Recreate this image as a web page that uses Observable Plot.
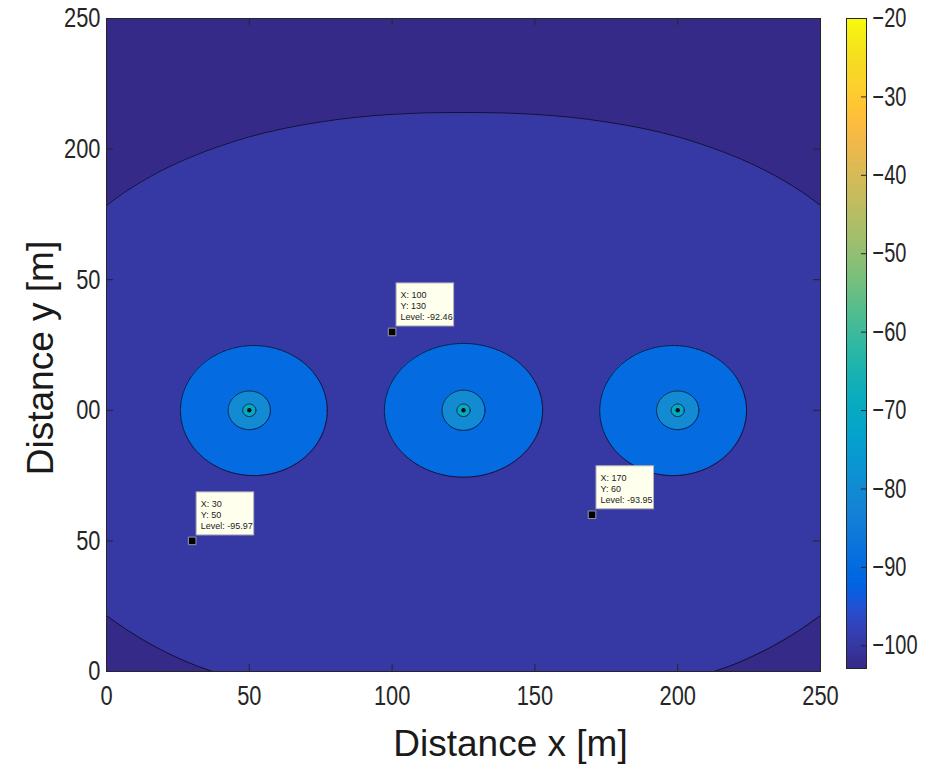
<!DOCTYPE html>
<html>
<head>
<meta charset="utf-8">
<script src="https://cdn.jsdelivr.net/npm/d3@7"></script>
<script src="https://cdn.jsdelivr.net/npm/@observablehq/plot@0.6"></script>
<style>
  html, body { margin: 0; padding: 0; background: #ffffff; }
  #wrap { position: relative; width: 927px; height: 765px; overflow: hidden; background: #ffffff; }
  #wrap svg { position: absolute; top: 0; }
</style>
</head>
<body>
<div id="wrap"></div>
<script>
// ---------------- data ----------------
const xTicks = [0, 50, 100, 150, 200, 250];
const yTicks = [0, 50, 100, 150, 200, 250];
const yTickLabels = ["0", "50", "00", "50", "200", "250"];
const colorbarTicks = [-100, -90, -80, -70, -60, -50, -40, -30, -20];
const colorMin = -102.9;
const colorMax = -20;

// -100 dB contour: upper arc, lower-left arc, lower-right arc
const topArcX = [0, 6.25, 12.5, 18.75, 25, 31.25, 37.5, 50, 62.5, 75, 87.5, 100, 112.5, 125, 137.5, 150, 162.5, 175, 187.5, 200, 212.5, 218.75, 225, 231.25, 237.5, 243.75, 250];
const topArcY = [178.4, 183.4, 187.7, 191.5, 194.8, 197.7, 200.3, 204.7, 208.0, 210.4, 212.2, 213.3, 213.9, 214.0, 213.9, 213.3, 212.2, 210.4, 208.0, 204.7, 200.3, 197.7, 194.8, 191.5, 187.7, 183.4, 178.4];
const bottomLeftX = [0, 6.25, 12.5, 18.75, 25, 31.25, 37.2];
const bottomLeftY = [21.4, 16.6, 12.3, 8.5, 5.2, 2.3, 0];
const bottomRightX = [212.8, 218.75, 225, 231.25, 237.5, 243.75, 250];
const bottomRightY = [0, 2.3, 5.2, 8.5, 12.3, 16.6, 21.4];
const outerBandLevel = -100;   // region between -100 and -90

// closed contour rings around the three sources
const ringLevel = [-90, -90, -90, -80, -80, -80, -70, -70, -70];
const ringCx    = [51.6, 125, 198.4, 50, 125, 200, 50, 125, 200];
const ringCy    = [99.9, 100, 99.9, 100, 100, 100, 100, 100, 100];
const ringRx    = [25.7, 27.7, 25.7, 7.4, 7.5, 7.4, 2.3, 2.3, 2.3];
const ringRy    = [24.9, 25.6, 24.9, 7.4, 7.7, 7.4, 2.4, 2.4, 2.4];

// sources
const sourceX = [50, 125, 200];
const sourceY = [100, 100, 100];

// data tips
const tipX = [100, 30, 170];
const tipY = [130, 50, 60];
const tipLevel = ["-92.46", "-95.97", "-93.95"];

// ---------------- colormap (parula) ----------------
const parula64 = [
[0.2081,0.1663,0.5292],[0.2116,0.1898,0.5777],[0.2123,0.2138,0.6270],[0.2081,0.2386,0.6771],
[0.1959,0.2645,0.7279],[0.1707,0.2919,0.7792],[0.1253,0.3242,0.8303],[0.0591,0.3598,0.8683],
[0.0117,0.3875,0.8820],[0.0060,0.4086,0.8828],[0.0165,0.4266,0.8786],[0.0329,0.4430,0.8720],
[0.0498,0.4586,0.8641],[0.0629,0.4737,0.8554],[0.0723,0.4887,0.8467],[0.0779,0.5040,0.8384],
[0.0793,0.5200,0.8312],[0.0749,0.5375,0.8263],[0.0641,0.5570,0.8240],[0.0488,0.5772,0.8228],
[0.0343,0.5966,0.8199],[0.0265,0.6137,0.8135],[0.0239,0.6287,0.8038],[0.0231,0.6418,0.7913],
[0.0228,0.6535,0.7768],[0.0267,0.6642,0.7607],[0.0384,0.6743,0.7436],[0.0590,0.6838,0.7254],
[0.0843,0.6928,0.7062],[0.1133,0.7015,0.6859],[0.1453,0.7098,0.6646],[0.1801,0.7177,0.6424],
[0.2178,0.7250,0.6193],[0.2586,0.7317,0.5954],[0.3022,0.7376,0.5712],[0.3482,0.7424,0.5473],
[0.3953,0.7459,0.5244],[0.4420,0.7481,0.5033],[0.4871,0.7491,0.4840],[0.5300,0.7491,0.4661],
[0.5709,0.7485,0.4494],[0.6099,0.7473,0.4337],[0.6473,0.7456,0.4188],[0.6834,0.7435,0.4044],
[0.7184,0.7411,0.3905],[0.7525,0.7384,0.3768],[0.7858,0.7356,0.3633],[0.8185,0.7327,0.3498],
[0.8507,0.7299,0.3360],[0.8824,0.7274,0.3217],[0.9139,0.7258,0.3063],[0.9450,0.7261,0.2886],
[0.9739,0.7314,0.2666],[0.9938,0.7455,0.2403],[0.9990,0.7653,0.2164],[0.9955,0.7861,0.1967],
[0.9880,0.8066,0.1794],[0.9789,0.8271,0.1633],[0.9697,0.8481,0.1475],[0.9626,0.8705,0.1309],
[0.9589,0.8949,0.1132],[0.9598,0.9218,0.0948],[0.9661,0.9514,0.0755],[0.9763,0.9831,0.0538]
];
const parulaColors = parula64.map(([r, g, b]) => d3.rgb(r * 255, g * 255, b * 255).formatHex());
const parulaInterp = d3.piecewise(d3.interpolateRgb, parulaColors);
const colorScale = { type: "linear", domain: [colorMin, colorMax], interpolate: (t) => parulaInterp(t) };

// ---------------- derived tables ----------------
const frameRect = [{ x1: xTicks[0], x2: xTicks[xTicks.length - 1], y1: yTicks[0], y2: yTicks[yTicks.length - 1], level: outerBandLevel }];
const yTop = yTicks[yTicks.length - 1], yBottom = yTicks[0];
const topArc = topArcX.map((x, i) => ({ x, y: topArcY[i], level: colorMin }));
const bottomLeft = bottomLeftX.map((x, i) => ({ x, y: bottomLeftY[i], level: colorMin }));
const bottomRight = bottomRightX.map((x, i) => ({ x, y: bottomRightY[i], level: colorMin }));

const N = 180;
const ringHalves = [], ringOutlines = [];
ringLevel.forEach((level, i) => {
  for (let k = 0; k <= N; k++) {
    const t = Math.PI * k / N;
    ringHalves.push({ ring: i, level, x: ringCx[i] + ringRx[i] * Math.cos(t), y1: ringCy[i] - ringRy[i] * Math.sin(t), y2: ringCy[i] + ringRy[i] * Math.sin(t) });
  }
  for (let k = 0; k <= 2 * N; k++) {
    const t = Math.PI * k / N;
    ringOutlines.push({ ring: i, x: ringCx[i] + ringRx[i] * Math.cos(t), y: ringCy[i] + ringRy[i] * Math.sin(t) });
  }
});
const sources = sourceX.map((x, i) => ({ x, y: sourceY[i] }));
const tips = tipX.map((x, i) => ({ x, y: tipY[i], level: tipLevel[i] }));

// ---------------- layout ----------------
const W = 840, H = 765, mL = 106, mR = 20, mT = 18, mB = 94;
const plotW = W - mL - mR, plotH = H - mT - mB;
const ink = "#262626";
const lineInk = "#0d0d2a";

const main = Plot.plot({
  width: W, height: H,
  marginLeft: mL, marginRight: mR, marginTop: mT, marginBottom: mB,
  x: { domain: [xTicks[0], xTicks[xTicks.length - 1]] },
  y: { domain: [yTicks[0], yTicks[yTicks.length - 1]] },
  color: colorScale,
  style: { fontFamily: "'Liberation Sans', Arial, sans-serif", color: ink, background: "white" },
  marks: [
    Plot.rect(frameRect, { x1: "x1", x2: "x2", y1: "y1", y2: "y2", fill: "level" }),
    Plot.areaY(topArc, { x: "x", y1: "y", y2: () => yTop, fill: "level", curve: "catmull-rom", clip: true }),
    Plot.areaY(bottomLeft, { x: "x", y1: () => yBottom, y2: "y", fill: "level", curve: "catmull-rom", clip: true }),
    Plot.areaY(bottomRight, { x: "x", y1: () => yBottom, y2: "y", fill: "level", curve: "catmull-rom", clip: true }),
    Plot.line(topArc, { x: "x", y: "y", stroke: lineInk, strokeWidth: 0.9, curve: "catmull-rom", clip: true }),
    Plot.line(bottomLeft, { x: "x", y: "y", stroke: lineInk, strokeWidth: 0.9, curve: "catmull-rom", clip: true }),
    Plot.line(bottomRight, { x: "x", y: "y", stroke: lineInk, strokeWidth: 0.9, curve: "catmull-rom", clip: true }),
    Plot.areaY(ringHalves, { x: "x", y1: "y1", y2: "y2", z: "ring", fill: "level" }),
    Plot.line(ringOutlines, { x: "x", y: "y", z: "ring", stroke: lineInk, strokeWidth: 0.9 }),
    Plot.dot(sources, { x: "x", y: "y", r: 2.2, fill: "#111" }),
    Plot.rect(tips, { x1: "x", x2: "x", y1: "y", y2: "y", insetLeft: 4.5, insetRight: -62, insetTop: -48.5, insetBottom: 5.5, fill: "#ffffee", stroke: "#b4b4b4", strokeWidth: 1 }),
    Plot.text(tips, { x: "x", y: "y", text: d => `X: ${d.x}\nY: ${d.y}\nLevel: ${d.level}`, textAnchor: "start", lineAnchor: "middle", dx: 8.5, dy: -26.4, fontSize: 9, lineHeight: 1.222, fill: "#222" }),
    Plot.dot(tips, { x: "x", y: "y", symbol: "square", r: 4.3, fill: "black", stroke: "#9a9a9a", strokeWidth: 1 }),
    Plot.tickX(xTicks, { x: d => d, insetTop: plotH - 7, stroke: ink }),
    Plot.tickX(xTicks, { x: d => d, insetBottom: plotH - 7, stroke: ink }),
    Plot.tickY(yTicks, { y: d => d, insetRight: plotW - 7, stroke: ink }),
    Plot.tickY(yTicks, { y: d => d, insetLeft: plotW - 7, stroke: ink }),
    Plot.frame({ stroke: ink, strokeWidth: 1 }),
    Plot.axisX(xTicks, { anchor: "bottom", tickSize: 0, tickPadding: 14, fontSize: 28, label: null, fill: ink, tickFormat: d => String(d) }),
    Plot.axisY(yTicks, { anchor: "left", tickSize: 0, tickPadding: 6, fontSize: 28, label: null, fill: ink, tickFormat: d => yTickLabels[yTicks.indexOf(d)] }),
    Plot.text(["Distance x [m]"], { text: d => d, frameAnchor: "bottom", textAnchor: "middle", lineAnchor: "bottom", dx: 47, dy: 84, fontSize: 37, fill: "#1a1a1a" }),
    Plot.text(["Distance y [m]"], { text: d => d, frameAnchor: "left", textAnchor: "middle", lineAnchor: "bottom", rotate: -90, dx: -54, dy: 13, fontSize: 37, fill: "#1a1a1a" })
  ]
});
main.style.left = "0px";

// ---------------- colorbar ----------------
const step = 0.2;
const cbRows = d3.range(colorMin, colorMax, step).map(v => ({ v0: v, v1: Math.min(colorMax, v + step * 1.6), v }));
const cbW = 107, cbL = 26, cbR = 61;
const cbBarW = cbW - cbL - cbR;
const colorbar = Plot.plot({
  width: cbW, height: H,
  marginLeft: cbL, marginRight: cbR, marginTop: 18, marginBottom: 97,
  x: { domain: [0, 1], axis: null },
  y: { domain: [colorMin, colorMax] },
  color: colorScale,
  style: { fontFamily: "'Liberation Sans', Arial, sans-serif", color: ink, background: "transparent" },
  marks: [
    Plot.rect(cbRows, { x1: () => 0, x2: () => 1, y1: "v0", y2: "v1", fill: "v" }),
    Plot.tickY(colorbarTicks, { y: d => d, insetLeft: cbBarW - 5, stroke: ink }),
    Plot.frame({ stroke: ink, strokeWidth: 1 }),
    Plot.axisY(colorbarTicks, { anchor: "right", tickSize: 0, tickPadding: 6, fontSize: 27, label: null, fill: ink })
  ]
});
colorbar.style.left = "820px";

function squeeze(svg, label, sx) {
  svg.querySelectorAll(`g[aria-label="${label}"] text`).forEach(t => {
    const tr = t.getAttribute("transform");
    if (tr) t.setAttribute("transform", tr + ` scale(${sx},1)`);
    else {
      const x = +t.getAttribute("x") || 0, y = +t.getAttribute("y") || 0;
      t.setAttribute("transform", `translate(${x},${y}) scale(${sx},1) translate(${-x},${-y})`);
    }
  });
}
squeeze(main, "x-axis tick label", 0.78);
squeeze(main, "y-axis tick label", 0.78);
squeeze(colorbar, "y-axis tick label", 0.74);

const wrap = document.getElementById("wrap");
wrap.appendChild(main);
wrap.appendChild(colorbar);
</script>
</body>
</html>
